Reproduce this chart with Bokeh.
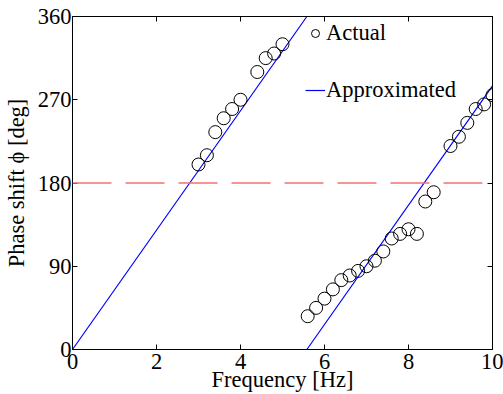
from bokeh.plotting import figure
from bokeh.models import LinearAxis, Legend, LegendItem, Range1d, FixedTicker, Span
from bokeh.embed import file_html
from bokeh.resources import INLINE

# Measured data
actual_f = [3.0, 3.2, 3.4, 3.6, 3.8, 4.0, 4.4, 4.6, 4.8, 5.0,
            5.6, 5.8, 6.0, 6.2, 6.4, 6.6, 6.8, 7.0, 7.2, 7.4, 7.6, 7.8, 8.0, 8.2,
            8.4, 8.6, 9.0, 9.2, 9.4, 9.6, 9.8, 10.0]
actual_phi = [200, 210, 235, 250, 260, 270, 300, 315, 320, 330,
              36, 45, 55, 65, 75, 80, 85, 90, 96, 106, 120, 125, 130, 125,
              160, 170, 220, 230, 245, 260, 265, 275]

# Approximated (wrapped linear) phase
approx_f = [0.0, 5.58, float("nan"), 5.58, 10.0]
approx_phi = [0.0, 360.0, float("nan"), 0.0, 285.0]

ref_phi = 180
x_ticks = [0, 2, 4, 6, 8, 10]
y_ticks = [0, 90, 180, 270, 360]

FONT = "Liberation Serif"
FS = "22.5px"

p = figure(width=503, height=394, output_backend="svg",
           toolbar_location=None, x_range=Range1d(0, 10), y_range=Range1d(0, 360),
           min_border_left=70, min_border_top=16, min_border_right=11, min_border_bottom=44,
           x_axis_label="Frequency [Hz]", y_axis_label="Phase shift \u03d5 [deg]")

p.xgrid.visible = False
p.ygrid.visible = False
p.outline_line_color = "black"
p.outline_line_width = 1
p.background_fill_color = "white"
p.border_fill_color = "white"

for ax, ticks in ((p.xaxis[0], x_ticks), (p.yaxis[0], y_ticks)):
    ax.ticker = FixedTicker(ticks=ticks)
    ax.major_tick_in = 5
    ax.major_tick_out = 0
    ax.minor_tick_line_color = None
    ax.axis_line_color = "black"
    ax.major_tick_line_color = "black"
    ax.major_label_text_font = FONT
    ax.major_label_text_font_size = FS
    ax.major_label_text_color = "black"
    ax.axis_label_text_font = FONT
    ax.axis_label_text_font_size = FS
    ax.axis_label_text_font_style = "normal"
    ax.axis_label_text_color = "black"

p.xaxis[0].major_label_standoff = 4
p.xaxis[0].axis_label_standoff = -5
p.yaxis[0].major_label_standoff = 1
p.yaxis[0].axis_label_standoff = 6

for loc, ticks in (("above", x_ticks), ("right", y_ticks)):
    a = LinearAxis(ticker=FixedTicker(ticks=ticks), major_tick_in=5, major_tick_out=0,
                   minor_tick_line_color=None, major_label_text_font_size="1px",
                   major_label_text_color=None, major_label_standoff=0,
                   axis_line_color="black")
    p.add_layout(a, loc)

ref = Span(location=ref_phi, dimension="width", line_color="#f47272",
           line_width=1.5, line_dash="39 14")
p.add_layout(ref)

ln = p.line(approx_f, approx_phi, line_color="#0000ff", line_width=1.2)
sc = p.scatter(actual_f, actual_phi, marker="circle", size=13, fill_color=None,
               line_color="black", line_width=1)

legend = Legend(items=[LegendItem(label="Actual", renderers=[sc]),
                       LegendItem(label="Approximated", renderers=[ln])],
                location=(233, 246), padding=0, margin=0, spacing=31,
                glyph_width=20, glyph_height=20, label_standoff=1,
                label_text_font=FONT, label_text_font_size=FS,
                label_text_color="black",
                border_line_color=None, background_fill_alpha=0)
p.add_layout(legend)

open("out.html", "w").write(file_html(p, INLINE))
